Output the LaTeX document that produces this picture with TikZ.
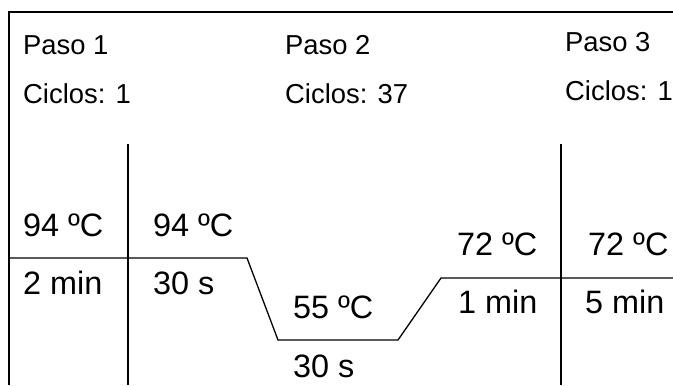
\documentclass[tikz,border=0pt]{standalone}
\usepackage{fontspec}
\setmainfont{Liberation Sans}
\usetikzlibrary{positioning}

\begin{document}
\begin{tikzpicture}[x=1bp, y=-1bp,
  paso/.style={anchor=base west, inner sep=0pt, font=\fontsize{27.5}{32}\selectfont},
  dato/.style={anchor=base west, inner sep=0pt, font=\fontsize{32.5}{38}\selectfont},
  marco/.style={line width=1.6bp},
  perfil/.style={line width=1.3bp}]
% Picture size (in px of the reference)
\def\ancho{673}
\def\alto{385}
\useasboundingbox (0,0) rectangle (\ancho,\alto);

% Frame, open to the right and to the bottom
\draw[marco] (9,\alto) -- (9,12) -- (\ancho,12);

% Step headers
\node[paso] (p1) at (23,54) {Paso 1};
\node[paso] (c1) at (23,103) {Ciclos: 1};
\node[paso] (p2) at (285,54) {Paso 2};
\node[paso] (c2) at (285,103) {Ciclos: 37};
\node[paso] (p3) at (565,51) {Paso 3};
\node[paso] (c3) at (565,100) {Ciclos: 1};

% Separators between the steps
\draw[perfil] (128,144) -- (128,\alto);
\draw[perfil] (561,144) -- (561,\alto);

% Temperature profile
\coordinate (t0) at (9,258);
\coordinate (t1) at (247,258);
\coordinate (t2) at (278,340);
\coordinate (t3) at (398,340);
\coordinate (t4) at (441,278);
\coordinate (t5) at (\ancho,278);
\draw[perfil] (t0) -- (t1) -- (t2) -- (t3) -- (t4) -- (t5);

% Temperatures and times
\node[dato] (d1) at (23,236) {94 ºC};
\node[dato] (h1) at (23,294) {2 min};
\node[dato] (d2) at (153,236) {94 ºC};
\node[dato] (h2) at (153,294) {30 s};
\node[dato] (d3) at (293,318) {55 ºC};
\node[dato] (h3) at (293,377) {30 s};
\node[dato] (d4) at (457,255) {72 ºC};
\node[dato] (h4) at (458,313) {1 min};
\node[dato] (d5) at (588,255) {72 ºC};
\node[dato] (h5) at (585,313) {5 min};
\end{tikzpicture}
\end{document}
